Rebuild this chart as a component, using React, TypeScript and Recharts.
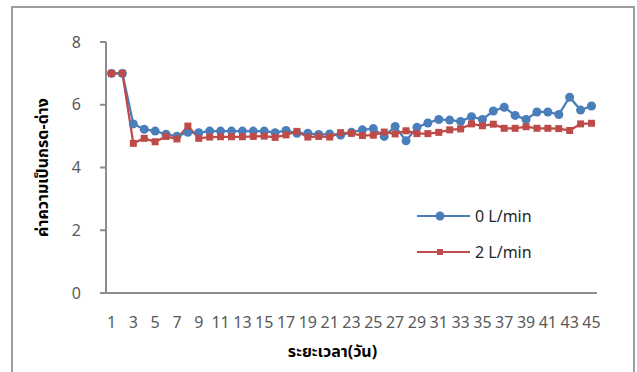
import { LineChart, Line, XAxis, YAxis } from 'recharts'

const days = Array.from({ length: 45 }, (_, i) => i + 1)

// pH readings per day
const flow0 = [
  7.0, 7.0, 5.39, 5.22, 5.16, 5.06, 5.0, 5.12, 5.11, 5.16,
  5.16, 5.16, 5.16, 5.16, 5.16, 5.11, 5.18, 5.09, 5.09, 5.05,
  5.07, 5.03, 5.12, 5.2, 5.24, 4.99, 5.31, 4.85, 5.28, 5.42,
  5.53, 5.51, 5.47, 5.62, 5.53, 5.8, 5.92, 5.66, 5.53, 5.77,
  5.77, 5.69, 6.24, 5.83, 5.96,
]
const flow2 = [
  7.0, 7.0, 4.77, 4.93, 4.82, 4.99, 4.91, 5.32, 4.93, 4.97,
  4.98, 4.98, 4.98, 4.99, 5.0, 4.96, 5.04, 5.15, 4.97, 4.99,
  4.97, 5.11, 5.09, 5.02, 5.03, 5.13, 5.07, 5.17, 5.08, 5.08,
  5.12, 5.2, 5.23, 5.39, 5.33, 5.38, 5.25, 5.25, 5.3, 5.25,
  5.25, 5.24, 5.18, 5.39, 5.41,
]
const yTicks = [0, 2, 4, 6, 8]
const seriesNames = ['0 L/min', '2 L/min']

const data = days.map((d, i) => ({ day: d, a: flow0[i], b: flow2[i] }))

const BLUE = '#4a7ebb'
const RED = '#be4b48'
const AXIS = '#8c8c8c'
const TICK = { fill: '#595959', fontSize: 16, fontFamily: 'Noto Sans, sans-serif' }
const THAI = '"Noto Sans Thai", "Noto Sans Thai Looped", Tahoma, "DejaVu Sans", sans-serif'

const Square = (props: any) => {
  const { cx, cy, index } = props
  if (cx == null || cy == null) return null
  return <rect key={index} x={cx - 3.5} y={cy - 3.5} width={7} height={7} fill={RED} />
}

// legend drawn as an overlay so it doesn't eat into the plot area
const LegendBox = () => (
  <div
    style={{
      position: 'absolute',
      left: 417,
      top: 198,
      fontFamily: 'Noto Sans, sans-serif',
      fontSize: 16,
      color: '#262626',
    }}
  >
    {seriesNames.map((name, i) => (
      <div key={name} style={{ display: 'flex', alignItems: 'center', height: 36 }}>
        <svg width={58} height={12}>
          <line x1={0} y1={6} x2={53} y2={6} stroke={i === 0 ? BLUE : RED} strokeWidth={2} />
          {i === 0 ? (
            <circle cx={23} cy={6} r={4.5} fill={BLUE} />
          ) : (
            <rect x={20} y={3} width={6} height={6} fill={RED} />
          )}
        </svg>
        <span>{name}</span>
      </div>
    ))}
  </div>
)

export default function App() {
  return (
    <div style={{ position: 'absolute', left: 0, top: 0, width: 637, height: 372, overflow: 'hidden', background: '#fff' }}>
      <div
        style={{
          position: 'absolute',
          left: 11,
          top: 6,
          width: 620,
          height: 420,
          border: '2px solid #9e9e9e',
        }}
      />
      <LineChart width={637} height={372} data={data} margin={{ top: 42, right: 40, left: 0, bottom: 39 }}>
        <XAxis
          dataKey="day"
          interval={1}
          padding={{ left: 5.5, right: 5.5 }}
          tickLine={false}
          tickSize={6}
          tickMargin={18}
          axisLine={{ stroke: AXIS, strokeWidth: 2 }}
          tick={TICK}
          height={40}
          label={({ viewBox }: any) => (
            <text
              x={viewBox.x + viewBox.width / 2 - 19}
              y={viewBox.y + 64}
              textAnchor="middle"
              fontSize={16}
              fontWeight="bold"
              fontFamily={THAI}
              fill="#000"
            >
              ระยะเวลา(วัน)
            </text>
          )}
        />
        <YAxis
          domain={[0, 8]}
          ticks={yTicks}
          width={106}
          tickSize={6}
          tickMargin={19}
          axisLine={{ stroke: AXIS, strokeWidth: 2 }}
          tickLine={{ stroke: AXIS, strokeWidth: 2 }}
          tick={TICK}
          label={({ viewBox }: any) => {
            const cx = viewBox.x + 43
            const cy = viewBox.y + viewBox.height / 2
            return (
              <text
                x={cx}
                y={cy}
                transform={`rotate(-90 ${cx} ${cy})`}
                textAnchor="middle"
                dominantBaseline="central"
                fontSize={16}
                fontWeight="bold"
                fontFamily={THAI}
                fill="#000"
              >
                ค่าความเป็นกรด-ด่าง
              </text>
            )
          }}
        />
        <Line
          dataKey="a"
          name={seriesNames[0]}
          stroke={BLUE}
          strokeWidth={2.25}
          dot={{ r: 4.5, fill: BLUE, stroke: BLUE, strokeWidth: 0 }}
          activeDot={false}
          isAnimationActive={false}
        />
        <Line
          dataKey="b"
          name={seriesNames[1]}
          stroke={RED}
          strokeWidth={2.25}
          dot={<Square />}
          activeDot={false}
          isAnimationActive={false}
        />
      </LineChart>
      <LegendBox />
    </div>
  )
}
